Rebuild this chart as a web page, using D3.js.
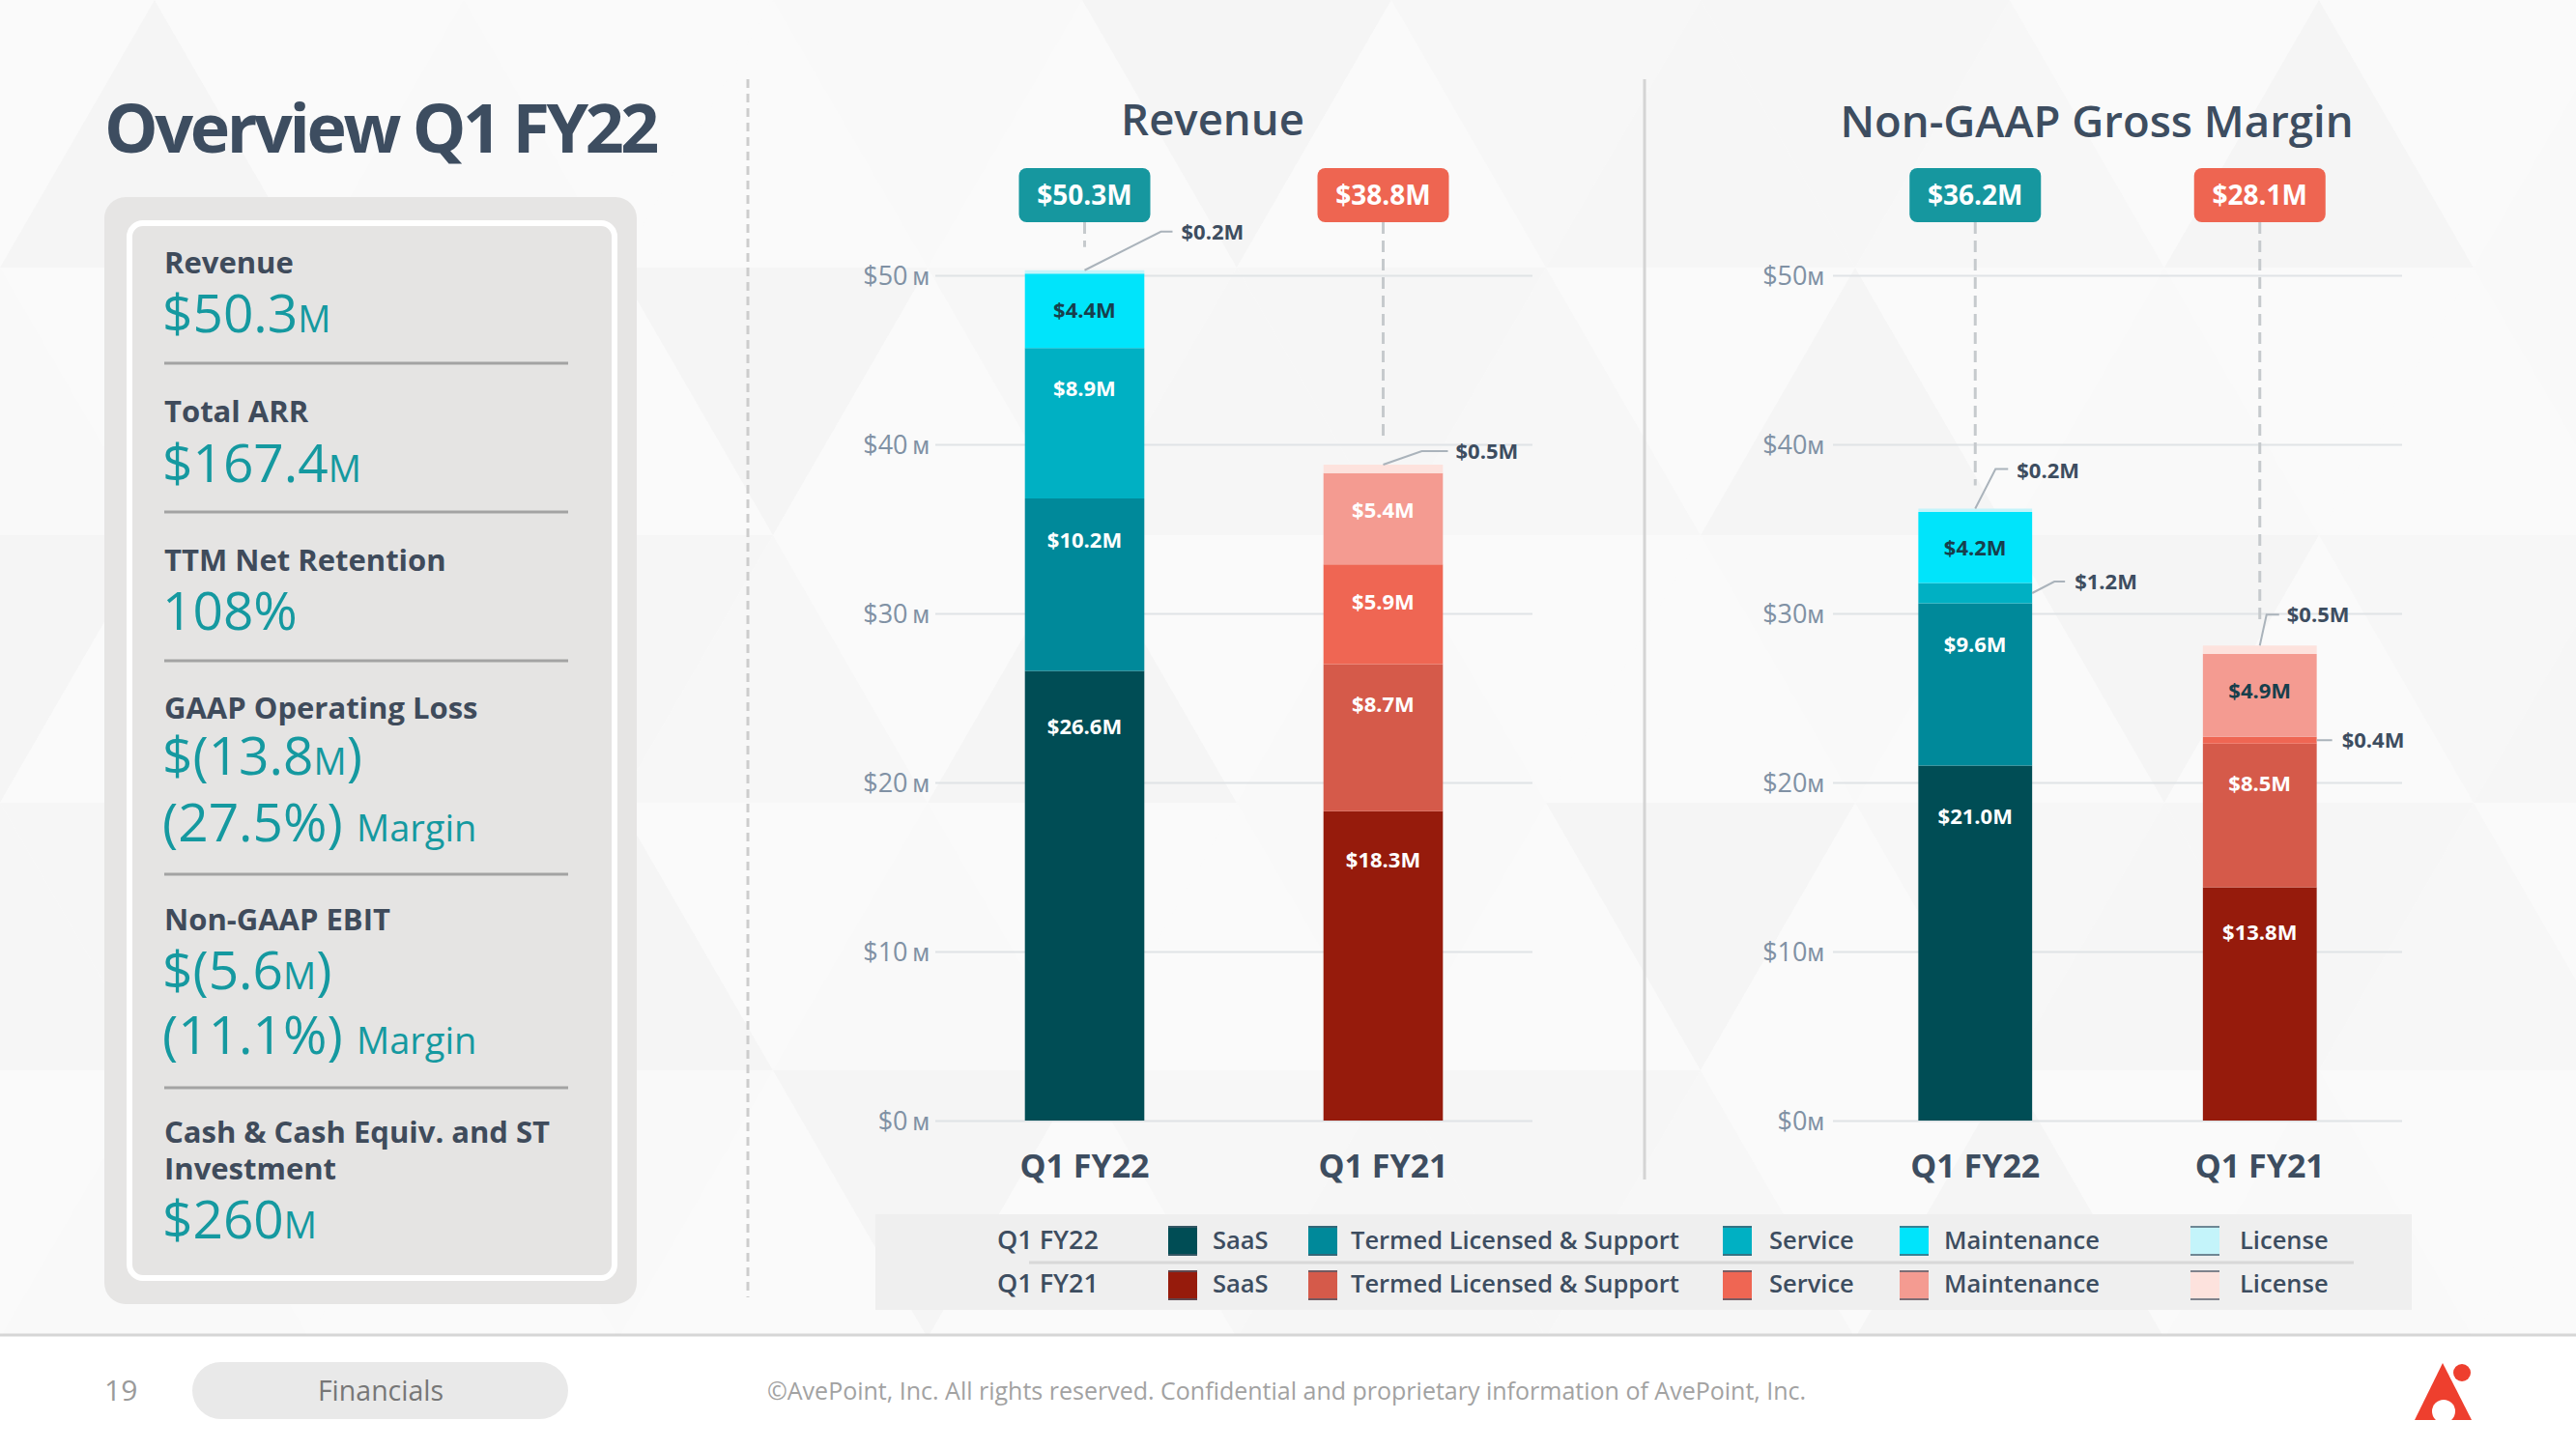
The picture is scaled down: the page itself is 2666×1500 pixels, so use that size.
<!DOCTYPE html>
<html>
<head>
<meta charset="utf-8">
<script src="https://cdn.jsdelivr.net/npm/d3@7/dist/d3.min.js"></script>
<style>
  html, body { margin: 0; padding: 0; background: #fafafa; }
  svg { display: block; font-family: "Open Sans", "Noto Sans", sans-serif; }
</style>
</head>
<body>
<svg id="chart" width="2666" height="1500"></svg>
<script>
// ---------------- DATA ----------------
const categories = ["Q1 FY22", "Q1 FY21"];
const segmentNames = ["SaaS", "Termed Licensed & Support", "Service", "Maintenance", "License"];
const revenueFY22 = [26.6, 10.2, 8.9, 4.4, 0.2];
const revenueFY21 = [18.3, 8.7, 5.9, 5.4, 0.5];
const grossMarginFY22 = [21.0, 9.6, 1.2, 4.2, 0.2];
const grossMarginFY21 = [13.8, 8.5, 0.4, 4.9, 0.5];
const yTicks = [0, 10, 20, 30, 40, 50];
const kpiLabels = ["Revenue", "Total ARR", "TTM Net Retention", "GAAP Operating Loss", "Non-GAAP EBIT", "Cash & Cash Equiv. and ST|Investment"];
const kpiValues = [["$50.3{M}"], ["$167.4{M}"], ["108%"], ["$(13.8{M})", "(27.5%) {Margin}"], ["$(5.6{M})", "(11.1%) {Margin}"], ["$260{M}"]];
const chartTitles = ["Revenue", "Non-GAAP Gross Margin"];
const pageTitle = "Overview Q1 FY22";
const footerText = "©AvePoint, Inc. All rights reserved. Confidential and proprietary information of AvePoint, Inc.";
const pageNumber = "19";
const sectionName = "Financials";

// ---------------- STYLE ----------------
const fy22Colors = ["#004d55", "#00899a", "#00b0c3", "#00e4fb", "#c4f4fa"];
const fy21Colors = ["#961b0c", "#d55a4a", "#ef6653", "#f49b91", "#fde2dd"];
const boxColors = ["#16979f", "#ee6551"];
const dark = "#3d4d60";
const teal = "#1599a0";

const svg = d3.select("#chart");

// ---------------- BACKGROUND ----------------
const bg = svg.append("g");
bg.append("rect").attr("width", 2666).attr("height", 1500).attr("fill", "#fafafa");
const ts = 320, th = 277;
const shades = ["#f5f5f5", "#fafafa", "#f7f7f7", "#fafafa", "#f6f6f6", "#f9f9f9", "#fafafa"];
for (let r = 0; r < 6; r++) {
  for (let c = -1; c < 10; c++) {
    const off = (r % 2) * ts / 2;
    const x0 = c * ts + off, y0 = r * th;
    const up = [[x0, y0 + th], [x0 + ts / 2, y0], [x0 + ts, y0 + th]];
    const dn = [[x0 + ts / 2, y0], [x0 + ts * 1.5, y0], [x0 + ts, y0 + th]];
    bg.append("path").attr("d", d3.line()(up) + "Z").attr("fill", shades[(r * 3 + c * 5 + 70) % 7]);
    bg.append("path").attr("d", d3.line()(dn) + "Z").attr("fill", shades[(r * 4 + c * 2 + 71) % 7]);
  }
}
// footer area
svg.append("rect").attr("x", 0).attr("y", 1382).attr("width", 2666).attr("height", 118).attr("fill", "#ffffff");
svg.append("line").attr("x1", 0).attr("x2", 2666).attr("y1", 1382).attr("y2", 1382)
  .attr("stroke", "#d6d6d6").attr("stroke-width", 3);

// ---------------- TITLE ----------------
svg.append("text").attr("x", 108).attr("y", 158).attr("fill", dark)
  .attr("font-size", 70).attr("font-weight", 700).attr("letter-spacing", -3.4).text(pageTitle);

// ---------------- KPI PANEL ----------------
svg.append("rect").attr("x", 108).attr("y", 204).attr("width", 551).attr("height", 1146)
  .attr("rx", 22).attr("fill", "#e6e5e4");
svg.append("rect").attr("x", 134).attr("y", 231).attr("width", 502).attr("height", 1092)
  .attr("rx", 14).attr("fill", "#e5e4e3").attr("stroke", "#ffffff").attr("stroke-width", 6);

const labelBase = [283, 437, 591, 744, 963, 1183];
const valueBase = [[344], [499], [652], [802, 871], [1024, 1091], [1282]];
const sepY = [376, 530, 684, 905, 1126];
const panel = svg.append("g");
kpiLabels.forEach((lab, i) => {
  lab.split("|").forEach((ln, j) => {
    panel.append("text").attr("x", 170).attr("y", labelBase[i] + j * 38)
      .attr("fill", "#3f4b5b").attr("font-size", 31).attr("font-weight", 700).text(ln);
  });
  kpiValues[i].forEach((v, j) => {
    const t = panel.append("text").attr("x", 168).attr("y", valueBase[i][j]).attr("fill", teal);
    const parts = v.split(/(\{[^}]*\})/).filter(p => p.length);
    parts.forEach(p => {
      if (p.startsWith("{")) t.append("tspan").attr("font-size", 38).text(p.slice(1, -1));
      else t.append("tspan").attr("font-size", 55).text(p);
    });
  });
});
sepY.forEach(y => panel.append("line").attr("x1", 170).attr("x2", 588).attr("y1", y).attr("y2", y)
  .attr("stroke", "#a3a3a3").attr("stroke-width", 3));

// ---------------- SEPARATORS ----------------
svg.append("line").attr("x1", 774).attr("x2", 774).attr("y1", 82).attr("y2", 1343)
  .attr("stroke", "#cdcdcd").attr("stroke-width", 3).attr("stroke-dasharray", "9 6");
svg.append("line").attr("x1", 1702).attr("x2", 1702).attr("y1", 82).attr("y2", 1221)
  .attr("stroke", "#d4d4d4").attr("stroke-width", 3);

// ---------------- CHARTS ----------------
const y = d3.scaleLinear().domain([0, 50]).range([1160, 285]);

const charts = [
  { id: "rev", title: chartTitles[0], titleX: 1255, titleY: 140, range: [968, 1586], tickPad: 6, space: " ",
    series: [revenueFY22, revenueFY21],
    dark: ["0-3"],
    leaders: [
      { bar: 0, seg: 4, from: "top", pts: [[79, -40], [91, -40]], tx: 100, ty: 8 },
      { bar: 1, seg: 4, from: "top", pts: [[40, -14], [67, -14]], tx: 75, ty: 8 }
    ] },
  { id: "gm", title: chartTitles[1], titleX: 2170, titleY: 142, range: [1897, 2486], tickPad: 9, space: "",
    series: [grossMarginFY22, grossMarginFY21],
    dark: ["0-3", "1-3"],
    leaders: [
      { bar: 0, seg: 4, from: "top", pts: [[21, -41], [34, -41]], tx: 43, ty: 9 },
      { bar: 1, seg: 4, from: "top", pts: [[7, -32], [20, -32]], tx: 28, ty: 8 },
      { bar: 0, seg: 2, from: "right", pts: [[23, -12], [34, -12]], tx: 44, ty: 8 },
      { bar: 1, seg: 2, from: "right", pts: [[16, 0]], tx: 26, ty: 8 }
    ] }
];

charts.forEach(ch => {
  const g = svg.append("g");
  const x = d3.scaleBand().domain(categories).range(ch.range).paddingInner(0.6).paddingOuter(0.3);
  const w = ch.range[1] - ch.range[0];

  // title
  g.append("text").attr("x", ch.titleX).attr("y", ch.titleY).attr("text-anchor", "middle")
    .attr("fill", dark).attr("font-size", 45.5).attr("font-weight", 600).text(ch.title);

  // axis + gridlines
  const ax = g.append("g").attr("transform", `translate(${ch.range[0]},0)`)
    .call(d3.axisLeft(y).tickValues(yTicks).tickSize(-w).tickPadding(ch.tickPad).tickFormat(d => "$" + d));
  ax.select(".domain").remove();
  ax.selectAll(".tick line").attr("stroke", "#e0e3e6").attr("stroke-width", 2);
  ax.selectAll(".tick text").each(function(d) {
    const t = d3.select(this);
    t.text(null).attr("fill", "#8091a4").attr("font-family", "'Open Sans', sans-serif").attr("dy", "9px");
    t.append("tspan").attr("font-size", 27).attr("font-weight", 400).text("$" + d);
    t.append("tspan").attr("font-size", 19).attr("font-weight", 600).text(ch.space + "M");
  });

  // stacked bars
  const rows = categories.map((c, i) => {
    const o = { cat: c };
    segmentNames.forEach((s, k) => o[s] = ch.series[i][k]);
    return o;
  });
  const stacked = d3.stack().keys(segmentNames)(rows);
  const bw = x.bandwidth();

  stacked.forEach((layer, k) => {
    layer.forEach((d, i) => {
      const cols = i === 0 ? fy22Colors : fy21Colors;
      const x0 = x(categories[i]);
      const top = y(d[1]), bot = y(d[0]);
      g.append("rect").attr("x", x0).attr("y", top).attr("width", bw).attr("height", bot - top)
        .attr("fill", cols[k]);
    });
  });

  // inline labels
  stacked.forEach((layer, k) => {
    layer.forEach((d, i) => {
      const isExt = ch.leaders.some(l => l.bar === i && l.seg === k);
      if (isExt) return;
      const top = y(d[1]), bot = y(d[0]);
      const h = bot - top;
      const off = Math.min(h / 2, 38 + 0.05 * (h - 80));
      const isDark = ch.dark.includes(i + "-" + k);
      g.append("text").attr("x", x(categories[i]) + bw / 2).attr("y", top + off + 8)
        .attr("text-anchor", "middle").attr("font-size", 22).attr("font-weight", 700)
        .attr("fill", isDark ? "#173f4c" : "#ffffff")
        .text("$" + (ch.series[i][k]).toFixed(1) + "M");
    });
  });

  // leader labels
  ch.leaders.forEach(l => {
    const d = stacked[l.seg][l.bar];
    const x0 = x(categories[l.bar]);
    let sx, sy;
    if (l.from === "top") { sx = x0 + bw / 2; sy = y(d[1]); }
    else { sx = x0 + bw; sy = (y(d[0]) + y(d[1])) / 2; }
    const pts = [[sx, sy]].concat(l.pts.map(p => [sx + p[0], sy + p[1]]));
    g.append("path").attr("d", d3.line()(pts)).attr("fill", "none")
      .attr("stroke", "#aab3bb").attr("stroke-width", 2);
    const last = l.pts[l.pts.length - 1];
    g.append("text").attr("x", sx + l.tx).attr("y", sy + last[1] + l.ty)
      .attr("font-size", 22).attr("font-weight", 700).attr("fill", dark)
      .text("$" + ch.series[l.bar][l.seg].toFixed(1) + "M");
  });

  // totals boxes + dashed connectors
  categories.forEach((c, i) => {
    const cx = x(c) + bw / 2;
    const total = d3.sum(ch.series[i]);
    g.append("line").attr("x1", cx).attr("x2", cx).attr("y1", 230).attr("y2", y(total) - 24)
      .attr("stroke", "#c6cacd").attr("stroke-width", 3).attr("stroke-dasharray", "12 7");
    g.append("rect").attr("x", cx - 68).attr("y", 174).attr("width", 136).attr("height", 56)
      .attr("rx", 8).attr("fill", boxColors[i]);
    g.append("text").attr("x", cx).attr("y", 212).attr("text-anchor", "middle")
      .attr("font-size", 28).attr("font-weight", 700).attr("fill", "#ffffff")
      .text("$" + total.toFixed(1) + "M");
    // category label
    g.append("text").attr("x", cx).attr("y", 1219).attr("text-anchor", "middle")
      .attr("font-size", 34).attr("font-weight", 700).attr("fill", dark).text(c);
  });
});

// ---------------- LEGEND ----------------
const lg = svg.append("g");
lg.append("rect").attr("x", 906).attr("y", 1257).attr("width", 1590).attr("height", 99).attr("fill", "#efefef");
lg.append("line").attr("x1", 1065).attr("x2", 2436).attr("y1", 1307).attr("y2", 1307)
  .attr("stroke", "#d8d8d8").attr("stroke-width", 3);
const swX = [1209, 1354, 1783, 1966, 2267];
const txX = [1255, 1398, 1831, 2012, 2318];
[fy22Colors, fy21Colors].forEach((cols, r) => {
  const sy = r === 0 ? 1269 : 1315;
  const by = r === 0 ? 1293 : 1338;
  lg.append("text").attr("x", 1032).attr("y", by).attr("font-size", 27).attr("font-weight", 600)
    .attr("fill", dark).text(categories[r]);
  segmentNames.forEach((s, k) => {
    lg.append("rect").attr("x", swX[k]).attr("y", sy).attr("width", 30).attr("height", 31).attr("fill", cols[k]);
    lg.append("line").attr("x1", swX[k]).attr("x2", swX[k] + 30).attr("y1", sy + 1).attr("y2", sy + 1)
      .attr("stroke", "#4a5a6a").attr("stroke-width", 2).attr("opacity", 0.7);
    lg.append("line").attr("x1", swX[k]).attr("x2", swX[k] + 30).attr("y1", sy + 30).attr("y2", sy + 30)
      .attr("stroke", "#4a5a6a").attr("stroke-width", 2).attr("opacity", 0.7);
    lg.append("text").attr("x", txX[k]).attr("y", by).attr("font-size", 25.5).attr("font-weight", 600)
      .attr("fill", dark).text(s);
  });
});

// ---------------- FOOTER ----------------
svg.append("text").attr("x", 108).attr("y", 1450).attr("font-size", 30).attr("fill", "#9a9a9a").text(pageNumber);
svg.append("rect").attr("x", 199).attr("y", 1410).attr("width", 389).attr("height", 59).attr("rx", 29.5).attr("fill", "#e9e9e9");
svg.append("text").attr("x", 394).attr("y", 1450).attr("text-anchor", "middle").attr("font-size", 28.5)
  .attr("fill", "#777777").text(sectionName);
svg.append("text").attr("x", 794).attr("y", 1449).attr("font-size", 25).attr("fill", "#a2a2a2").text(footerText);

// logo
const logo = svg.append("g");
const mask = svg.append("defs").append("mask").attr("id", "logoMask");
mask.append("rect").attr("x", 2480).attr("y", 1395).attr("width", 100).attr("height", 90).attr("fill", "#fff");
mask.append("circle").attr("cx", 2529).attr("cy", 1461).attr("r", 12).attr("fill", "#000");
mask.append("circle").attr("cx", 2548).attr("cy", 1421).attr("r", 13).attr("fill", "#000");
logo.append("path").attr("d", d3.line()([[2528, 1411], [2558, 1470], [2499, 1470]]) + "Z")
  .attr("fill", "#ee3f2e").attr("mask", "url(#logoMask)");
logo.append("circle").attr("cx", 2548).attr("cy", 1421).attr("r", 9).attr("fill", "#ee3f2e");
</script>
</body>
</html>
